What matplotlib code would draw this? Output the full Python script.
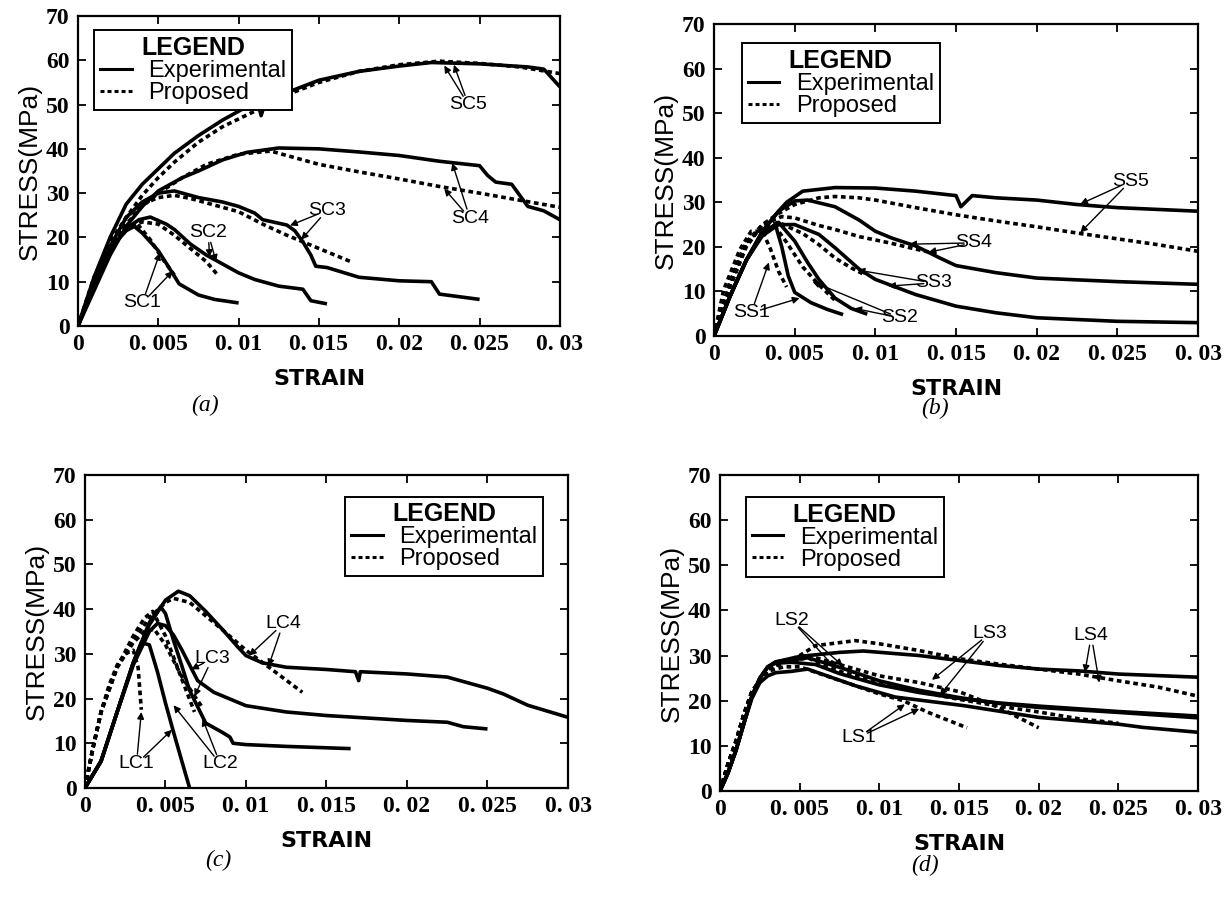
import matplotlib.pyplot as plt
from matplotlib.lines import Line2D


# ---------------- Panel (a): SC specimens ----------------

sc1_exp_x = [0, 0.001, 0.002, 0.003, 0.0035, 0.004, 0.005, 0.0057, 0.0063, 0.0075, 0.0085, 0.01]
sc1_exp_y = [0, 9.5, 17.5, 21.5, 22.5, 21, 17, 13, 9.5, 7, 6, 5.2]
sc1_pro_x = [0, 0.001, 0.002, 0.003, 0.0037, 0.0045, 0.0052, 0.006]
sc1_pro_y = [0, 11, 19, 22.5, 23, 19.5, 15.5, 11.5]

sc2_exp_x = [0, 0.001, 0.002, 0.003, 0.0038, 0.0045, 0.0055, 0.006, 0.007, 0.008, 0.009, 0.01,
             0.011, 0.0125, 0.014, 0.0145, 0.0155]
sc2_exp_y = [0, 9, 17, 22, 24, 24.6, 23, 21.8, 18.5, 16, 14, 12, 10.5, 9, 8.3, 5.7, 5]
sc2_pro_x = [0, 0.001, 0.002, 0.003, 0.004, 0.005, 0.006, 0.007, 0.008, 0.0087]
sc2_pro_y = [0, 10, 18.5, 22, 23.5, 23, 20.5, 17.5, 14.5, 11.5]

sc3_exp_x = [0, 0.001, 0.002, 0.003, 0.004, 0.005, 0.006, 0.0075, 0.009, 0.01, 0.011, 0.0115,
             0.013, 0.0135, 0.014, 0.0145, 0.0148, 0.0155, 0.0175, 0.02, 0.022, 0.0225, 0.025]
sc3_exp_y = [0, 9, 18, 24.5, 28, 30, 30.5, 29, 28, 27, 25.5, 24, 22.8, 21.5, 19, 16, 13.5,
             13.2, 11, 10.2, 10, 7.2, 6]
sc3_pro_x = [0, 0.001, 0.002, 0.003, 0.004, 0.005, 0.006, 0.007, 0.008, 0.01, 0.0115, 0.013,
             0.015, 0.017]
sc3_pro_y = [0, 10, 19, 24.5, 27.5, 29, 29.5, 28.8, 27.8, 25.8, 23, 20.5, 17.5, 14.5]

sc4_exp_x = [0, 0.001, 0.002, 0.003, 0.004, 0.005, 0.0065, 0.0075, 0.009, 0.0105, 0.0125,
             0.015, 0.0175, 0.02, 0.0225, 0.025, 0.0255, 0.026, 0.027, 0.0275, 0.028, 0.029, 0.03]
sc4_exp_y = [0, 8, 16, 22.5, 27, 30.5, 33.5, 35, 37.5, 39.2, 40.2, 40, 39.3, 38.5, 37.2, 36.2,
             34, 32.5, 32, 29.5, 27, 26, 24]
sc4_pro_x = [0, 0.001, 0.002, 0.003, 0.004, 0.005, 0.0065, 0.008, 0.01, 0.012, 0.0135, 0.015,
             0.0175, 0.02, 0.0225, 0.025, 0.0275, 0.03]
sc4_pro_y = [0, 9, 17, 23, 27, 30, 33.5, 36.5, 38.8, 39.5, 38, 36.5, 34.8, 33.2, 31.5, 30,
             28.4, 26.8]

sc5_exp_x = [0, 0.001, 0.002, 0.003, 0.004, 0.005, 0.006, 0.0075, 0.009, 0.0105, 0.0112,
             0.0114, 0.0117, 0.0125, 0.015, 0.0175, 0.02, 0.022, 0.025, 0.028, 0.029, 0.03]
sc5_exp_y = [0, 11, 20, 27.5, 32, 35.5, 39, 43, 46.5, 49.5, 50.5, 47.5, 51, 52, 55.5, 57.5,
             58.7, 59.5, 59.2, 58.5, 58, 54]
sc5_pro_x = [0, 0.001, 0.002, 0.003, 0.004, 0.005, 0.006, 0.0075, 0.009, 0.011, 0.0125, 0.015,
             0.0175, 0.02, 0.0225, 0.025, 0.0275, 0.03]
sc5_pro_y = [0, 9, 17.5, 24.5, 29.5, 33.5, 37, 41.5, 45, 48.5, 51.5, 55, 57.5, 59, 59.8, 59.3,
             58.5, 57]


# ---------------- Panel (b): SS specimens ----------------

ss1_exp_x = [0, 0.001, 0.002, 0.003, 0.0038, 0.0042, 0.0046, 0.005, 0.006, 0.007, 0.008]
ss1_exp_y = [0, 9, 17, 23, 25, 20, 13.5, 9.8, 7.5, 6, 4.8]
ss1_pro_x = [0, 0.0006, 0.0016, 0.0023, 0.003, 0.0035, 0.004, 0.0045]
ss1_pro_y = [0, 10.4, 19.4, 23.5, 23.5, 19.5, 14.5, 11]

ss2_exp_x = [0, 0.001, 0.002, 0.003, 0.004, 0.005, 0.0058, 0.0065, 0.0075, 0.0085, 0.0095]
ss2_exp_y = [0, 9, 17, 23, 25.5, 21.3, 16.5, 12.7, 8.5, 6.2, 4.9]
ss2_pro_x = [0, 0.001, 0.002, 0.003, 0.0038, 0.0045, 0.0055, 0.0065, 0.0075]
ss2_pro_y = [0, 12, 21, 24.5, 24.5, 21, 15.5, 11.5, 8]

ss3_exp_x = [0, 0.001, 0.002, 0.003, 0.004, 0.005, 0.0065, 0.0075, 0.009, 0.01, 0.0125, 0.015,
             0.0175, 0.02, 0.025, 0.03]
ss3_exp_y = [0, 9, 17, 22.5, 25, 25, 22.8, 19.8, 15, 12.7, 9.3, 6.7, 5.2, 4.1, 3.3, 3]
ss3_pro_x = [0, 0.001, 0.002, 0.003, 0.004, 0.0055, 0.0065, 0.0075, 0.0085, 0.0092]
ss3_pro_y = [0, 12, 21, 24.5, 25.5, 23, 20.5, 17.5, 15.3, 14]

ss4_exp_x = [0, 0.001, 0.002, 0.003, 0.004, 0.005, 0.0058, 0.0075, 0.009, 0.01, 0.011, 0.0125,
             0.014, 0.015, 0.0175, 0.02, 0.025, 0.03]
ss4_exp_y = [0, 9, 17, 23.5, 28, 30.3, 30.5, 29, 26, 23.5, 22, 20.2, 17.5, 15.8, 14.2, 13,
             12.2, 11.6]
ss4_pro_x = [0, 0.001, 0.002, 0.003, 0.0042, 0.005, 0.0065, 0.0075, 0.009, 0.011, 0.0125, 0.0135]
ss4_pro_y = [0, 12, 21, 25, 26.8, 26.5, 24.8, 23.9, 22.3, 20.8, 19.5, 18.7]

ss5_exp_x = [0, 0.001, 0.002, 0.003, 0.004, 0.0045, 0.0055, 0.0075, 0.01, 0.0125, 0.015,
             0.0153, 0.016, 0.0175, 0.02, 0.0225, 0.025, 0.03]
ss5_exp_y = [0, 9, 17, 23.5, 28, 30, 32.5, 33.3, 33.2, 32.5, 31.5, 29, 31.5, 31, 30.5, 29.5,
             28.8, 28]
ss5_pro_x = [0, 0.001, 0.002, 0.003, 0.004, 0.005, 0.0065, 0.0075, 0.009, 0.01, 0.0125, 0.015,
             0.0175, 0.02, 0.0225, 0.025, 0.0275, 0.03]
ss5_pro_y = [0, 11, 20, 25, 27.5, 29.5, 31, 31.3, 31, 30.5, 28.8, 27.2, 25.8, 24.5, 23.1, 21.8,
             20.5, 19]


# ---------------- Panel (c): LC specimens ----------------

lc1_exp_x = [0, 0.001, 0.002, 0.003, 0.0035, 0.004, 0.0045, 0.005, 0.0055, 0.006, 0.0065]
lc1_exp_y = [0, 6, 17, 28, 32.5, 32, 26, 19, 12.5, 6.2, 0]
lc1_pro_x = [0, 0.0005, 0.001, 0.0015, 0.002, 0.0025, 0.003, 0.0033, 0.0035]
lc1_pro_y = [0, 9, 17, 23, 27.5, 30, 30.8, 27, 17.5]

lc2_exp_x = [0, 0.001, 0.002, 0.003, 0.004, 0.0047, 0.005, 0.0055, 0.006, 0.0065, 0.0075,
             0.0085, 0.009, 0.0092, 0.01, 0.0125, 0.0165]
lc2_exp_y = [0, 6, 17, 28, 37, 40.5, 39, 33, 27.5, 21.8, 14.5, 12.5, 11.4, 10, 9.7, 9.3, 8.8]
lc2_pro_x = [0, 0.0005, 0.001, 0.002, 0.003, 0.0037, 0.0042, 0.005, 0.006, 0.0068]
lc2_pro_y = [0, 9, 17, 27, 34, 38, 39.5, 34, 24.5, 17]

lc3_exp_x = [0, 0.001, 0.002, 0.003, 0.004, 0.0045, 0.005, 0.0055, 0.006, 0.0065, 0.007, 0.008,
             0.01, 0.0125, 0.015, 0.02, 0.0225, 0.0235, 0.025]
lc3_exp_y = [0, 6, 17, 27.5, 35, 36.8, 36.3, 34.2, 31, 27.5, 24, 21.4, 18.4, 17, 16.2, 15.1,
             14.7, 13.7, 13.2]
lc3_pro_x = [0, 0.0005, 0.001, 0.002, 0.003, 0.0037, 0.0043, 0.005, 0.006, 0.007, 0.0073]
lc3_pro_y = [0, 9, 17, 27, 32.5, 35, 35.5, 32, 25, 19.5, 18]

lc4_exp_x = [0, 0.001, 0.002, 0.003, 0.004, 0.005, 0.0058, 0.0065, 0.0075, 0.0085, 0.0095,
             0.01, 0.011, 0.0125, 0.015, 0.0168, 0.017, 0.0171, 0.02, 0.0225, 0.024, 0.025,
             0.026, 0.0275, 0.03]
lc4_exp_y = [0, 6, 17, 28, 36.5, 42, 44, 43, 39.5, 35.6, 31.5, 29.6, 28, 27, 26.5, 26, 24,
             26, 25.5, 24.8, 23.3, 22.3, 21, 18.5, 15.8]
lc4_pro_x = [0, 0.0005, 0.001, 0.002, 0.003, 0.004, 0.005, 0.0055, 0.0065, 0.0075, 0.0085,
             0.01, 0.0115, 0.0135]
lc4_pro_y = [0, 9, 17, 27, 33, 38, 41.5, 42.4, 41.5, 38.5, 35.5, 30.8, 26.8, 21.4]


# ---------------- Panel (d): LS specimens ----------------

ls1_exp_x = [0, 0.0005, 0.001, 0.0015, 0.002, 0.0025, 0.003, 0.0035, 0.0045, 0.0055, 0.0085,
             0.011, 0.0153, 0.02, 0.025, 0.0265, 0.03]
ls1_exp_y = [0, 4, 9, 15, 20.5, 24, 25.5, 26.2, 26.5, 27, 23.3, 20.8, 18.9, 16.3, 14.8, 14.1, 13]
ls1_pro_x = [0, 0.0005, 0.001, 0.0015, 0.002, 0.003, 0.004, 0.005, 0.0075, 0.01, 0.0115,
             0.013, 0.0155]
ls1_pro_y = [0, 6, 11, 17, 22, 26.5, 27.5, 27.5, 24.5, 21.5, 20, 17.5, 14]

ls2_exp_x = [0, 0.0005, 0.001, 0.0015, 0.002, 0.0025, 0.003, 0.0035, 0.0045, 0.006, 0.0075,
             0.01, 0.0125, 0.015, 0.0175, 0.02, 0.025, 0.03]
ls2_exp_y = [0, 4, 9, 15, 21, 25, 27.5, 28.3, 28.5, 28, 26, 23.5, 21.8, 20.5, 19.5, 18.8,
             17.6, 16.6]
ls2_pro_x = [0, 0.0005, 0.001, 0.0015, 0.002, 0.003, 0.004, 0.0055, 0.0075, 0.01, 0.0125,
             0.015, 0.0175, 0.02]
ls2_pro_y = [0, 6, 11, 17, 22, 27, 28.5, 30, 28, 25.5, 24, 22, 18.5, 14]

ls3_exp_x = [0, 0.0005, 0.001, 0.0015, 0.002, 0.0025, 0.003, 0.0035, 0.0045, 0.0055, 0.0075,
             0.01, 0.0125, 0.015, 0.0175, 0.02, 0.025, 0.03]
ls3_exp_y = [0, 4, 9, 15, 21, 25, 27.5, 28.6, 29, 29.5, 27.4, 24.4, 22.3, 20.7, 19.4, 18.5,
             17.4, 16.2]
ls3_pro_x = [0, 0.0005, 0.001, 0.0015, 0.002, 0.003, 0.004, 0.0055, 0.0075, 0.01, 0.0125,
             0.015, 0.0175, 0.02, 0.0225, 0.025]
ls3_pro_y = [0, 6, 11, 17, 22, 27, 28.5, 29.5, 26.5, 24, 22, 20.3, 18.8, 17.5, 16, 15]

ls4_exp_x = [0, 0.0005, 0.001, 0.0015, 0.002, 0.0025, 0.003, 0.0035, 0.004, 0.005, 0.0075,
             0.009, 0.0125, 0.015, 0.0175, 0.02, 0.0225, 0.025, 0.03]
ls4_exp_y = [0, 4, 9, 15, 21, 25, 27.5, 28.6, 29, 29.8, 30.7, 31, 30, 28.9, 27.8, 27, 26.6,
             25.9, 25.2]
ls4_pro_x = [0, 0.0005, 0.001, 0.0015, 0.002, 0.003, 0.004, 0.005, 0.006, 0.0085, 0.01,
             0.0125, 0.015, 0.0175, 0.02, 0.0225, 0.025, 0.0275, 0.03]
ls4_pro_y = [0, 6, 11, 17, 22, 27, 28.5, 30, 32.2, 33.3, 32.6, 31.1, 29.3, 28.1, 27, 25.9,
             24.4, 23, 21]


# ---------------- Axis ticks ----------------

strain_ticks = [0, 0.005, 0.01, 0.015, 0.02, 0.025, 0.03]
strain_labels = ["0", "0. 005", "0. 01", "0. 015", "0. 02", "0. 025", "0. 03"]
stress_ticks = [0, 10, 20, 30, 40, 50, 60, 70]


# ---------------- Drawing ----------------

serif = ["Liberation Serif", "DejaVu Serif"]
sans = ["Liberation Sans", "DejaVu Sans"]
dotted = (0, (1.3, 1.0))
LW = 2.6


def draw_panel(ax, curves, legend_loc, labels, caption, cap_xy):
    for ex, ey, px, py in curves:
        ax.plot(ex, ey, color="black", lw=LW, solid_capstyle="butt")
        ax.plot(px, py, color="black", lw=LW, linestyle=dotted)

    for text, txy, targets in labels:
        for t in targets:
            ax.annotate("", xy=t, xytext=txy,
                        arrowprops=dict(arrowstyle="-|>", color="black", lw=1.0,
                                        mutation_scale=10, shrinkA=7, shrinkB=0))
        ax.text(txy[0], txy[1], text, ha="center", va="center", fontsize=14,
                family=sans)

    ax.set_xlim(0, 0.03)
    ax.set_ylim(0, 70)
    ax.set_xticks(strain_ticks)
    ax.set_xticklabels(strain_labels, family=serif, fontweight="bold", fontsize=17)
    ax.set_yticks(stress_ticks)
    ax.set_yticklabels([str(v) for v in stress_ticks], family=serif, fontweight="bold",
                       fontsize=17)
    ax.tick_params(direction="in", top=True, right=True, length=6, width=1.3, pad=6)
    for s in ax.spines.values():
        s.set_linewidth(1.6)

    ax.set_xlabel("STRAIN", fontweight="bold", fontsize=16, labelpad=10)
    ax.set_ylabel("STRESS(MPa)", family=sans, fontsize=19, labelpad=3)

    handles = [Line2D([0], [0], color="black", lw=2.2),
               Line2D([0], [0], color="black", lw=2.2, linestyle=dotted)]
    leg = ax.legend(handles, ["Experimental", "Proposed"], title="LEGEND",
                    loc="upper left", bbox_to_anchor=legend_loc, fancybox=False,
                    edgecolor="black", framealpha=1, handlelength=1.35, handletextpad=0.7,
                    borderpad=0.25, labelspacing=0.0, borderaxespad=0,
                    prop={"family": sans, "size": 17},
                    title_fontproperties={"family": sans, "size": 18, "weight": "bold"})
    leg.get_frame().set_linewidth(1.4)

    fig.text(cap_xy[0], cap_xy[1], caption, ha="center", va="center", fontsize=17,
             style="italic", family=serif)


fig = plt.figure(figsize=(12.26, 9.05), dpi=100)

ax_a = fig.add_axes([0.0636, 0.6398, 0.3931, 0.3425])
ax_b = fig.add_axes([0.5824, 0.6287, 0.3948, 0.3448])
ax_c = fig.add_axes([0.0693, 0.1293, 0.3940, 0.3459])
ax_d = fig.add_axes([0.5873, 0.1260, 0.3899, 0.3492])

draw_panel(ax_a,
           [(sc1_exp_x, sc1_exp_y, sc1_pro_x, sc1_pro_y),
            (sc2_exp_x, sc2_exp_y, sc2_pro_x, sc2_pro_y),
            (sc3_exp_x, sc3_exp_y, sc3_pro_x, sc3_pro_y),
            (sc4_exp_x, sc4_exp_y, sc4_pro_x, sc4_pro_y),
            (sc5_exp_x, sc5_exp_y, sc5_pro_x, sc5_pro_y)],
           (0.033, 0.955),
           [("SC5", (0.0243, 50), [(0.0228, 58.8), (0.0234, 59)]),
            ("SC4", (0.0244, 24.3), [(0.0233, 36.8), (0.0228, 31)]),
            ("SC3", (0.0155, 26.1), [(0.0132, 22.7), (0.0139, 19.5)]),
            ("SC2", (0.0081, 21), [(0.0082, 15.6), (0.0086, 14.5)]),
            ("SC1", (0.004, 5.2), [(0.0051, 16.5), (0.0059, 12.4)])],
           "(a)", (0.167, 0.5525))

draw_panel(ax_b,
           [(ss1_exp_x, ss1_exp_y, ss1_pro_x, ss1_pro_y),
            (ss2_exp_x, ss2_exp_y, ss2_pro_x, ss2_pro_y),
            (ss3_exp_x, ss3_exp_y, ss3_pro_x, ss3_pro_y),
            (ss4_exp_x, ss4_exp_y, ss4_pro_x, ss4_pro_y),
            (ss5_exp_x, ss5_exp_y, ss5_pro_x, ss5_pro_y)],
           (0.057, 0.938),
           [("SS5", (0.0258, 34.7), [(0.0227, 29.6), (0.0227, 23.2)]),
            ("SS4", (0.0161, 20.9), [(0.0121, 20.6), (0.0133, 18.8)]),
            ("SS3", (0.0136, 11.9), [(0.0089, 14.8), (0.0108, 11.2)]),
            ("SS2", (0.0115, 4.1), [(0.0061, 12.2), (0.0087, 6.2)]),
            ("SS1", (0.0023, 5.2), [(0.0034, 16.5), (0.0053, 8.5)])],
           "(b)", (0.7626, 0.549))

draw_panel(ax_c,
           [(lc1_exp_x, lc1_exp_y, lc1_pro_x, lc1_pro_y),
            (lc2_exp_x, lc2_exp_y, lc2_pro_x, lc2_pro_y),
            (lc3_exp_x, lc3_exp_y, lc3_pro_x, lc3_pro_y),
            (lc4_exp_x, lc4_exp_y, lc4_pro_x, lc4_pro_y)],
           (0.538, 0.931),
           [("LC4", (0.0123, 36.7), [(0.0102, 29.6), (0.0114, 27.2)]),
            ("LC3", (0.0079, 28.9), [(0.0066, 26.5), (0.0068, 20.5)]),
            ("LC2", (0.0084, 5.4), [(0.0055, 18.5), (0.0073, 15.5)]),
            ("LC1", (0.0032, 5.4), [(0.0035, 17), (0.0054, 13)])],
           "(c)", (0.178, 0.049))

draw_panel(ax_d,
           [(ls1_exp_x, ls1_exp_y, ls1_pro_x, ls1_pro_y),
            (ls2_exp_x, ls2_exp_y, ls2_pro_x, ls2_pro_y),
            (ls3_exp_x, ls3_exp_y, ls3_pro_x, ls3_pro_y),
            (ls4_exp_x, ls4_exp_y, ls4_pro_x, ls4_pro_y)],
           (0.0535, 0.931),
           [("LS2", (0.0045, 37.8), [(0.0072, 27.3), (0.0077, 27.7)]),
            ("LS3", (0.0169, 34.8), [(0.0133, 24.6), (0.0138, 21.2)]),
            ("LS4", (0.0233, 34.4), [(0.0229, 26.3), (0.0238, 24)]),
            ("LS1", (0.0087, 11.9), [(0.0116, 19.2), (0.0125, 18.2)])],
           "(d)", (0.7545, 0.044))

fig.savefig("out.png", dpi=100)
